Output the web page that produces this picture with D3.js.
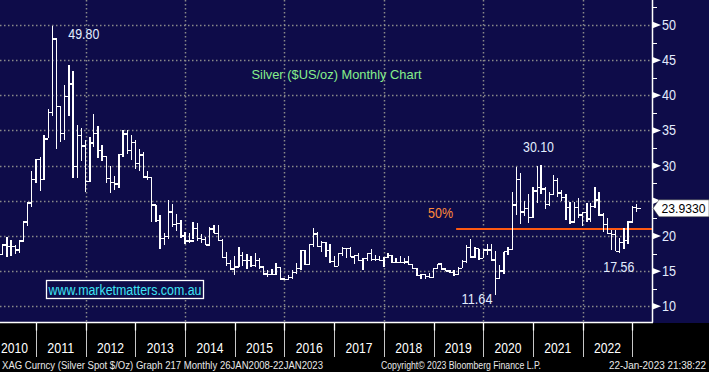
<!DOCTYPE html>
<html><head><meta charset="utf-8">
<script src="https://cdn.jsdelivr.net/npm/d3@7"></script>
<style>html,body{margin:0;padding:0;background:#000;} svg{display:block;}</style>
</head><body>
<svg id="c" width="709" height="372"></svg>
<script>
// ---------------- DATA ----------------
const firstMonth = "2010-03";   // first monthly bar (Mar 2010) .. last (Jan 2023)
const highs = [
  17.9,18.8,19.8,19.4,18.7,19.4,22.0,24.8,29.3,30.9,                 // 2010 Mar-Dec
  31.2,34.3,38.1,49.8,48.1,38.5,41.5,44.3,43.5,35.8,35.3,33.6,       // 2011
  34.1,37.4,35.6,33.0,31.4,29.9,28.5,31.7,35.0,35.0,34.4,33.7,       // 2012
  32.4,32.0,29.2,28.3,24.4,23.0,20.4,25.1,24.6,23.1,22.3,20.5,       // 2013
  20.4,22.0,21.8,20.3,19.8,21.3,21.6,21.6,19.5,17.7,16.6,17.2,       // 2014
  18.4,17.7,17.5,17.2,17.6,16.8,15.6,15.2,15.3,16.1,15.6,14.0,       // 2015
  14.5,15.2,16.1,18.0,18.0,18.8,21.2,20.6,19.3,19.1,18.9,17.1,       // 2016
  17.5,18.4,18.3,18.5,17.3,17.6,16.8,17.5,18.1,17.3,17.1,17.0,       // 2017
  17.6,17.3,16.8,17.1,16.8,17.1,16.0,15.4,14.6,14.6,14.8,15.4,       // 2018
  16.0,16.0,15.3,15.2,15.1,15.6,16.6,18.7,19.5,18.4,18.2,18.1,       // 2019
  18.8,18.9,17.9,15.9,17.75,18.4,26.3,29.85,28.9,25.0,25.9,26.9,     // 2020
  30.0,30.1,27.0,26.3,28.7,28.3,26.6,26.0,24.9,24.8,25.4,23.4,       // 2021
  24.7,24.7,27.0,26.2,23.3,22.5,20.9,20.9,19.7,21.2,22.2,24.3,       // 2022
  24.6                                                               // 2023 Jan
];
const lows = [
  16.3,17.3,17.0,17.1,17.5,17.6,19.1,21.4,24.1,27.6,
  26.4,28.0,33.9,37.1,32.4,33.4,33.6,37.0,28.2,28.3,30.7,26.3,
  27.7,32.7,31.1,30.7,27.6,26.1,26.6,26.8,31.3,31.6,30.8,29.5,
  29.3,28.4,28.0,22.0,22.0,18.2,18.7,19.6,21.3,20.7,19.7,18.9,
  19.0,19.5,19.3,19.0,18.7,18.8,20.4,19.4,16.9,15.8,15.1,14.4,
  15.6,15.8,15.3,15.6,15.6,15.3,14.4,14.1,14.4,14.4,13.8,13.7,
  13.8,13.9,14.6,15.1,15.9,15.9,18.4,18.5,17.7,17.0,16.1,15.7,
  15.7,17.2,16.9,17.0,16.0,16.4,15.2,16.5,16.4,16.4,16.5,15.6,
  16.9,16.2,16.2,16.2,16.0,15.9,15.3,14.3,13.9,13.9,14.0,14.0,
  15.3,15.1,14.95,14.8,14.3,14.5,15.4,16.2,16.9,16.9,16.6,16.9,
  17.3,16.6,11.64,14.0,14.6,17.3,18.0,23.0,21.7,22.8,21.9,22.5,
  24.7,25.9,23.8,24.2,25.8,25.6,25.0,22.3,21.7,21.9,22.5,21.4,
  22.0,22.0,24.0,22.9,20.5,20.3,18.0,17.9,17.56,18.1,18.8,21.9,
  23.4
];
const closes = [
  17.4,18.7,18.5,18.5,18.0,19.3,22.0,24.7,28.0,30.9,
  28.0,33.8,37.6,48.0,38.4,34.6,39.8,41.6,29.9,34.3,32.8,27.7,
  33.2,34.6,32.2,31.3,28.2,27.6,27.4,31.6,34.5,32.2,33.3,30.3,
  31.5,28.4,28.3,24.4,22.2,19.6,19.9,23.4,21.6,21.8,20.0,19.3,
  19.3,21.1,19.6,19.5,18.7,21.0,20.4,19.4,16.9,16.1,15.3,15.6,
  17.2,16.5,16.5,15.8,16.5,15.6,14.6,14.5,14.5,15.5,13.9,13.8,
  14.1,14.8,15.4,17.95,15.9,18.8,20.3,18.5,19.1,17.9,16.4,15.7,
  17.5,18.2,18.2,17.0,17.2,16.5,16.8,17.5,16.7,16.7,16.5,16.9,
  17.2,16.2,16.2,16.2,16.3,15.9,15.4,14.4,14.5,14.2,14.1,15.4,
  16.0,15.3,15.0,14.8,14.5,15.4,16.4,18.4,17.0,18.2,16.8,18.0,
  18.0,16.6,14.0,15.0,17.75,18.1,24.4,28.0,23.4,23.9,22.6,26.4,
  26.9,26.7,24.5,25.9,27.9,26.1,25.5,24.0,22.0,24.0,23.0,23.3,
  22.4,24.2,25.1,23.0,21.6,20.4,20.2,17.8,19.1,19.4,22.0,24.0,
  23.933
];
const yTicks = [10,15,20,25,30,35,40,45,50];
const yMinorTicks = [7.5,12.5,17.5,22.5,27.5,32.5,37.5,42.5,47.5,52.5];
const yearLabels = ["2010","2011","2012","2013","2014","2015","2016","2017","2018","2019","2020","2021","2022"];
const gridYears = ["2012","2014","2016","2018","2020","2022"];
const title = "Silver ($US/oz) Monthly Chart";
const peakLabel = {text:"49.80", month:"2011-04", value:49.80};
const highLabel = {text:"30.10", month:"2021-02", value:30.10};
const lowLabel  = {text:"11.64", month:"2020-03", value:11.64};
const low2Label = {text:"17.56", month:"2022-09", value:17.56};
const retraceLevel = {text:"50%", value:21.0, from:"2019-06-16"};
const lastPrice = {text:"23.9330", value:23.933};
const watermark = "www.marketmatters.com.au";
const footerLeft = "XAG Curncy (Silver Spot  $/Oz) Graph 217  Monthly 26JAN2008-22JAN2023";
const footerMid = "Copyright\u00A9 2023 Bloomberg Finance L.P.";
const footerRight = "22-Jan-2023 21:38:22";

// ---------------- LAYOUT ----------------
const W = 709, H = 372;
const plotRight = 652, plotBottom = 322.5;
const NAVY = "#0e0c49";
const FONT = "'Liberation Sans', Arial, sans-serif";

const svg = d3.select("#c");
const parseM = d3.timeParse("%Y-%m");
const parseD = d3.timeParse("%Y-%m-%d");
const parseY = d3.timeParse("%Y");

// bars are dated at month end (= start of next month)
const start = parseM(firstMonth);
const bars = closes.map((c, i) => {
  const m = d3.timeMonth.offset(start, i);
  return {month: m, end: d3.timeMonth.offset(m, 1), high: highs[i], low: lows[i], close: c};
});

const x = d3.scaleTime()
  .domain([parseY("2011"), parseY("2023")])
  .range([36, 632.3]);
const y = d3.scaleLinear().domain([10, 50]).range([306.3, 25]);
const step = x(parseM("2015-02")) - x(parseM("2015-01"));

// backgrounds
svg.append("rect").attr("x",0).attr("y",0).attr("width",W).attr("height",H).attr("fill","#000");
svg.append("rect").attr("x",0).attr("y",0).attr("width",W).attr("height",plotBottom+0.5).attr("fill",NAVY);

const clip = svg.append("clipPath").attr("id","pc");
clip.append("rect").attr("x",0).attr("y",0).attr("width",plotRight).attr("height",plotBottom);

// grid
const grid = svg.append("g").attr("stroke","#8a8a8a").attr("stroke-width",1.5)
  .attr("stroke-dasharray","1.5,2.5").attr("clip-path","url(#pc)");
grid.selectAll("line.h").data(yTicks).join("line").attr("class","h")
  .attr("x1",0).attr("x2",plotRight)
  .attr("y1",d=>Math.round(y(d))+0.5).attr("y2",d=>Math.round(y(d))+0.5);
grid.selectAll("line.v").data(gridYears).join("line").attr("class","v")
  .attr("y1",0).attr("y2",plotBottom)
  .attr("x1",d=>Math.round(x(parseY(d)))+0.5).attr("x2",d=>Math.round(x(parseY(d)))+0.5);

// 50% retracement line
svg.append("line")
  .attr("x1", x(parseD(retraceLevel.from))).attr("x2", plotRight)
  .attr("y1", y(retraceLevel.value)).attr("y2", y(retraceLevel.value))
  .attr("stroke","#ff5a12").attr("stroke-width",2);
svg.append("text").text(retraceLevel.text)
  .attr("x", x(parseD(retraceLevel.from)) - 3).attr("y", y(retraceLevel.value) - 11)
  .attr("text-anchor","end").attr("fill","#ff8a3a")
  .attr("font-family",FONT).attr("font-size",14)
  .attr("textLength",25).attr("lengthAdjust","spacingAndGlyphs");

// price bars
const gb = svg.append("g").attr("clip-path","url(#pc)")
  .attr("stroke","#ffffff").attr("stroke-width",1.3).attr("fill","none")
  .attr("shape-rendering","crispEdges");
gb.selectAll("path").data(bars).join("path")
  .attr("d", d => {
    const bx = x(d.end);
    return `M${bx},${y(d.high)}V${y(d.low)}M${bx},${y(d.close)}H${bx+step}`;
  });

// right axis
const ty = y(lastPrice.value);
const ax = svg.append("g");
ax.append("line").attr("x1",plotRight+0.5).attr("x2",plotRight+0.5).attr("y1",0).attr("y2",plotBottom)
  .attr("stroke","#fff").attr("stroke-width",1.5);
ax.selectAll("line.mn").data(yMinorTicks.filter(v=>y(v)>0 && y(v)<plotBottom)).join("line").attr("class","mn")
  .attr("x1",plotRight).attr("x2",plotRight+5)
  .attr("y1",d=>Math.round(y(d))+0.5).attr("y2",d=>Math.round(y(d))+0.5)
  .attr("stroke","#fff").attr("stroke-width",1);
ax.selectAll("path.tri").data(yTicks).join("path").attr("class","tri")
  .attr("d",d=>{const yy=y(d);return `M${plotRight},${yy-3.5}L${plotRight+9},${yy}L${plotRight},${yy+3.5}Z`;})
  .attr("fill","#fff");
// labels hidden behind the last-price tag are not drawn (as in the reference)
ax.selectAll("text").data(yTicks.filter(v => Math.abs(y(v) - ty) > 12)).join("text")
  .attr("x",plotRight+10).attr("y",d=>y(d)+5)
  .text(d=>d).attr("fill","#e4ecff")
  .attr("font-family",FONT).attr("font-size",14)
  .attr("textLength",d=>String(d).length*7).attr("lengthAdjust","spacingAndGlyphs");

// last price tag
svg.append("path")
  .attr("d",`M${plotRight+1},${ty}L${plotRight+7},${ty-8.5}H${W}V${ty+8.5}H${plotRight+7}Z`)
  .attr("fill","#ffffff").attr("stroke","#333").attr("stroke-width",0.5);
svg.append("text").text(lastPrice.text)
  .attr("x",plotRight+9.5).attr("y",ty+5)
  .attr("fill","#000").attr("font-family",FONT).attr("font-size",13.5)
  .attr("textLength",44).attr("lengthAdjust","spacingAndGlyphs");

// title
svg.append("text").text(title).attr("x",251.5).attr("y",79)
  .attr("fill","#86f08c").attr("font-family",FONT).attr("font-size",13)
  .attr("textLength",170).attr("lengthAdjust","spacingAndGlyphs");

// value annotations
function bx(lbl){ return x(d3.timeMonth.offset(parseM(lbl.month),1)); }
const annoStyle = sel => sel.attr("fill","#e2eeff").attr("font-family",FONT).attr("font-size",15)
  .attr("textLength",31).attr("lengthAdjust","spacingAndGlyphs");
svg.append("text").text(peakLabel.text).attr("x",bx(peakLabel)+16).attr("y",y(peakLabel.value)+12.5).call(annoStyle);
svg.append("text").text(highLabel.text).attr("x",bx(highLabel)-18).attr("y",y(highLabel.value)-13).call(annoStyle);
svg.append("text").text(lowLabel.text).attr("x",bx(lowLabel)-34).attr("y",y(lowLabel.value)+9).call(annoStyle);
svg.append("text").text(low2Label.text).attr("x",bx(low2Label)-16.5).attr("y",y(low2Label.value)+19).call(annoStyle);

// watermark box
svg.append("rect").attr("x",46.5).attr("y",280.5).attr("width",157).attr("height",18)
  .attr("fill",NAVY).attr("stroke","#ffffff").attr("stroke-width",1.3);
svg.append("text").text(watermark).attr("x",48.5).attr("y",294.5)
  .attr("fill","#3ee4f4").attr("font-family",FONT).attr("font-size",14)
  .attr("textLength",153).attr("lengthAdjust","spacingAndGlyphs");

// bottom axis: line, separators, year labels
svg.append("line").attr("x1",0).attr("x2",plotRight+1).attr("y1",plotBottom).attr("y2",plotBottom)
  .attr("stroke","#fff").attr("stroke-width",1.3);
const sepYears = yearLabels.slice(1).map(s=>String(+s)).concat(["2023"]);
svg.selectAll("line.sep").data(sepYears).join("line").attr("class","sep")
  .attr("x1",d=>Math.round(x(parseY(d)))+0.5).attr("x2",d=>Math.round(x(parseY(d)))+0.5)
  .attr("y1",plotBottom).attr("y2",357)
  .attr("stroke","#c8c8c8").attr("stroke-width",1);
svg.selectAll("line.tk").data(sepYears).join("line").attr("class","tk")
  .attr("x1",d=>Math.round(x(parseY(d)))+0.5).attr("x2",d=>Math.round(x(parseY(d)))+0.5)
  .attr("y1",plotBottom).attr("y2",plotBottom+8)
  .attr("stroke","#ffffff").attr("stroke-width",1.3);
svg.selectAll("text.yr").data(yearLabels).join("text").attr("class","yr")
  .attr("x",d=>{const a=x(parseY(d)), b=x(parseY(String(+d+1))); return Math.max((a+b)/2, 14.5);})
  .attr("y",353).attr("text-anchor","middle").text(d=>d)
  .attr("fill","#ffffff").attr("font-family",FONT).attr("font-size",14)
  .attr("textLength",27).attr("lengthAdjust","spacingAndGlyphs");

// footer
const foot = (t,xx,len)=>svg.append("text").text(t).attr("x",xx).attr("y",369)
  .attr("fill","#e8e8e8").attr("font-family",FONT).attr("font-size",10)
  .attr("textLength",len).attr("lengthAdjust","spacingAndGlyphs");
foot(footerLeft,2,321);
foot(footerMid,381,160);
foot(footerRight,609,97);
</script>
</body></html>
